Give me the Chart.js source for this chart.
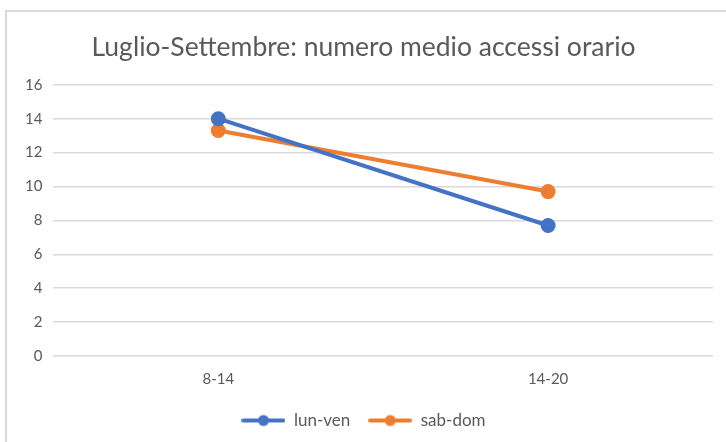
<!DOCTYPE html>
<html>
<head>
<meta charset="utf-8">
<script src="https://cdn.jsdelivr.net/npm/chart.js@4/dist/chart.umd.min.js"></script>
<style>
  body { margin: 0; background: #fff; }
  #wrap { position: absolute; left: 0; top: 0; width: 726px; height: 442px; }
  #frame {
    position: absolute; left: 5px; top: 10px; width: 740px; height: 450px;
    border-top: 2px solid #d9d9d9; border-left: 2px solid #d9d9d9;
    pointer-events: none;
  }
</style>
</head>
<body>
<div id="wrap">
  <canvas id="lineChart" width="726" height="442"></canvas>
  <div id="frame"></div>
</div>
<script>
// chart data
const fasce = ["8-14", "14-20"];
const lunVen = [14, 7.7];
const sabDom = [13.3, 9.7];
const yTicks = [0, 2, 4, 6, 8, 10, 12, 14, 16];

const BLUE = "#4472c4";
const ORANGE = "#ed7d31";
const GREY = "#595959";
const FONT = "Lato, 'Open Sans', sans-serif";

// little line + dot picture for the legend
function legendMarker(color) {
  const c = document.createElement("canvas");
  c.width = 44;
  c.height = 14;
  const g = c.getContext("2d");
  g.strokeStyle = color;
  g.lineWidth = 4;
  g.lineCap = "round";
  g.beginPath();
  g.moveTo(2, 7);
  g.lineTo(42, 7);
  g.stroke();
  g.fillStyle = color;
  g.beginPath();
  g.arc(22, 7, 5.5, 0, Math.PI * 2);
  g.fill();
  return c;
}

const ctx = document.getElementById("lineChart").getContext("2d");
new Chart(ctx, {
  type: "line",
  data: {
    labels: fasce,
    datasets: [
      {
        label: "lun-ven",
        data: lunVen,
        borderColor: BLUE,
        backgroundColor: BLUE,
        borderWidth: 4,
        pointRadius: 5.5,
        pointHoverRadius: 5.5,
        marker: legendMarker(BLUE),
      },
      {
        label: "sab-dom",
        data: sabDom,
        borderColor: ORANGE,
        backgroundColor: ORANGE,
        borderWidth: 4,
        pointRadius: 5.5,
        pointHoverRadius: 5.5,
        marker: legendMarker(ORANGE),
      },
    ],
  },
  options: {
    responsive: false,
    animation: false,
    layout: {
      padding: { left: 14, right: 13, top: 16, bottom: 3 },
    },
    plugins: {
      title: {
        display: true,
        text: "Luglio-Settembre: numero medio accessi orario",
        color: GREY,
        font: { family: FONT, size: 26.5, weight: "normal" },
        padding: { top: 16, bottom: 21 },
      },
      legend: {
        position: "bottom",
        labels: {
          color: GREY,
          font: { family: FONT, size: 17 },
          usePointStyle: true,
          pointStyleWidth: 44,
          boxHeight: 14,
          padding: 18,
          generateLabels(chart) {
            return chart.data.datasets.map((ds, i) => ({
              text: ds.label,
              pointStyle: ds.marker,
              fillStyle: ds.borderColor,
              strokeStyle: ds.borderColor,
              lineWidth: 0,
              hidden: false,
              datasetIndex: i,
              fontColor: GREY,
            }));
          },
        },
      },
      tooltip: { enabled: false },
    },
    scales: {
      x: {
        offset: true,
        grid: { display: false },
        border: { display: false },
        ticks: { color: GREY, font: { family: FONT, size: 15 }, padding: 6 },
      },
      y: {
        min: 0,
        max: 16,
        afterBuildTicks(axis) {
          axis.ticks = yTicks.map((v) => ({ value: v }));
        },
        grid: { color: "#d9d9d9", lineWidth: 1.5, drawTicks: false },
        border: { display: false },
        ticks: { color: GREY, font: { family: FONT, size: 15 }, padding: 11 },
      },
    },
  },
});
</script>
</body>
</html>
